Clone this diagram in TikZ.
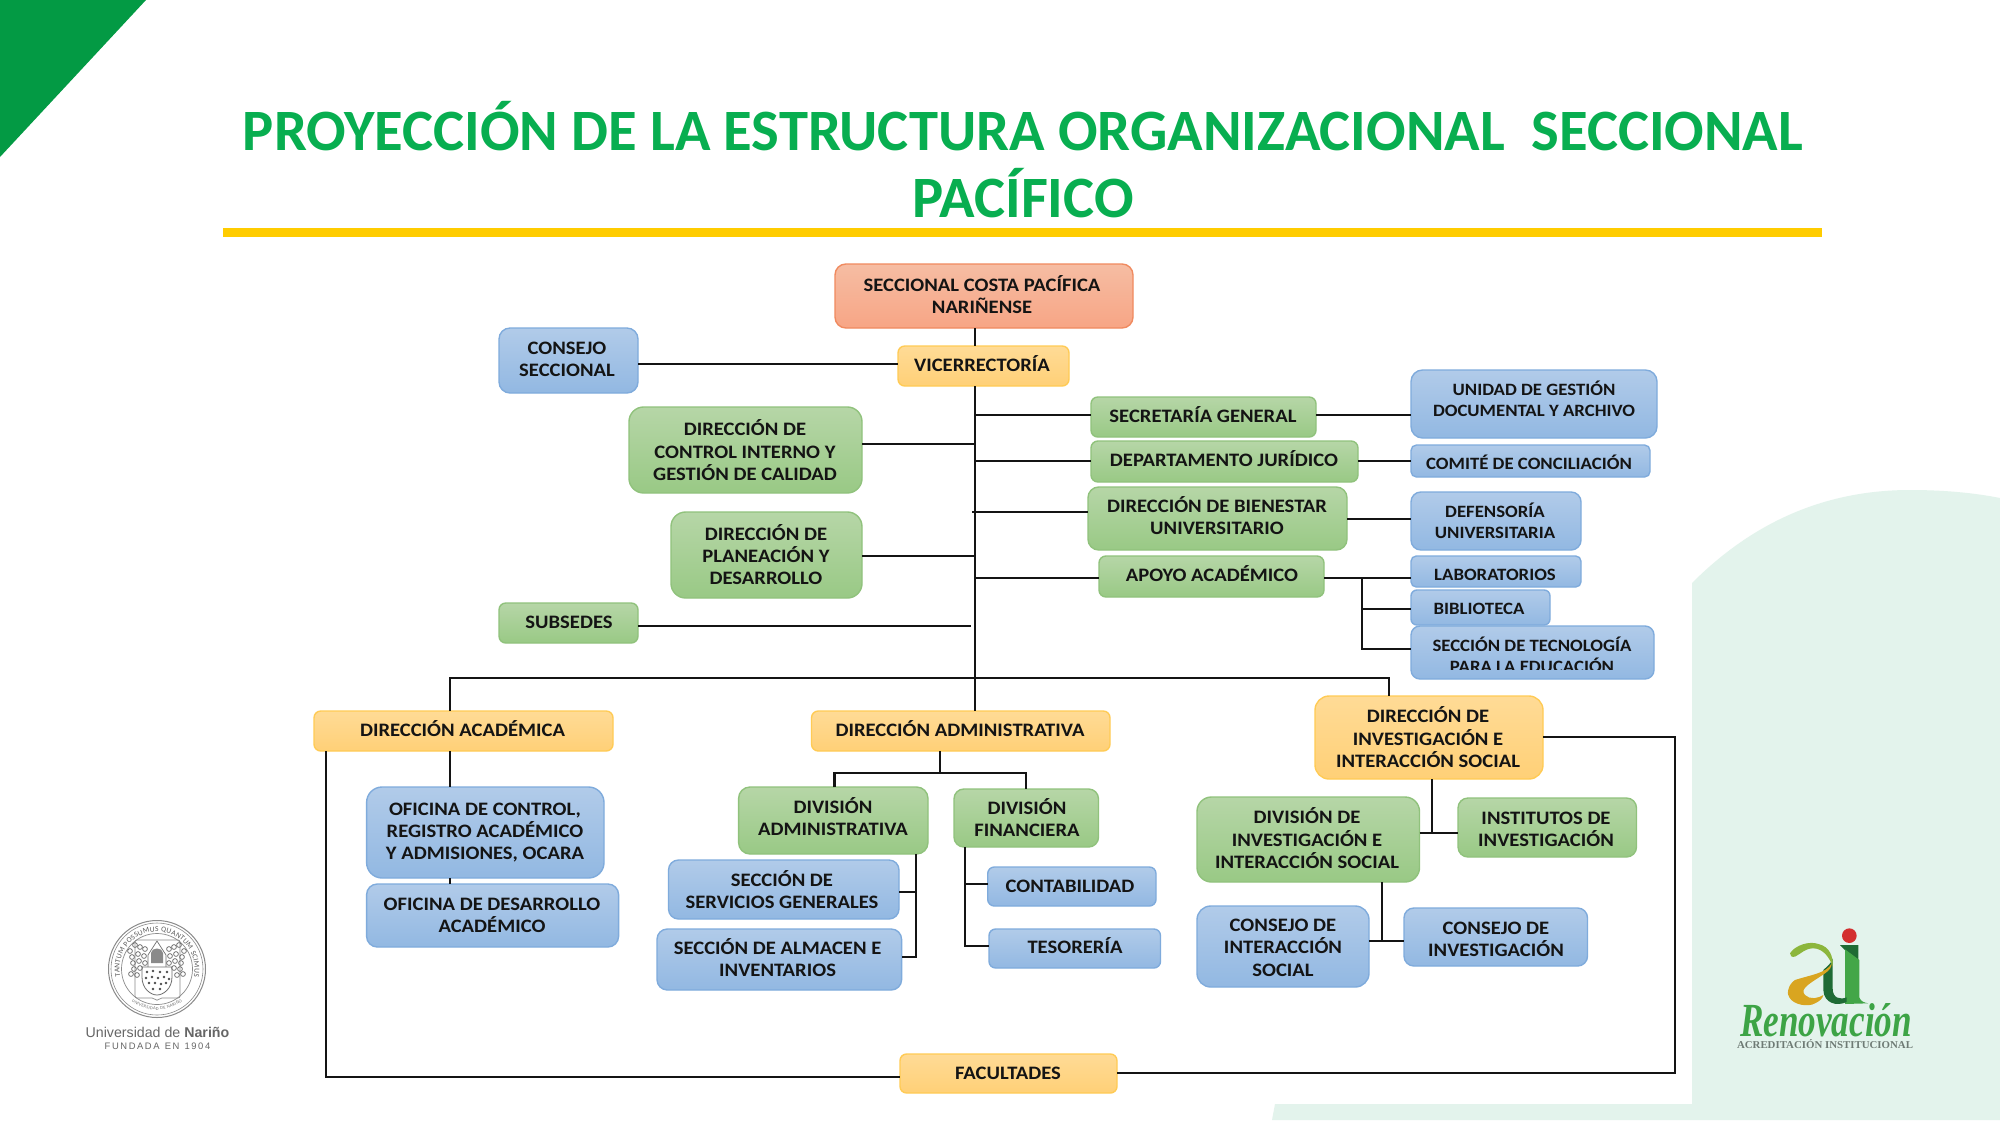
\documentclass[tikz,border=0pt]{standalone}
\usepackage{fontspec}
\usepackage{graphicx}
\setmainfont{Carlito}
\newfontfamily\boxfont[FakeStretch=1.085]{Carlito}
\newfontfamily\liberser{Liberation Serif}
\newfontfamily\libersans{Liberation Sans}
\usetikzlibrary{decorations.text}
\definecolor{titlegreen}{HTML}{08AE50}
\definecolor{trigreen}{HTML}{039A44}
\definecolor{rulegold}{HTML}{FFCC00}
\definecolor{palebg}{HTML}{E3F3EC}
\definecolor{inkc}{HTML}{141414}
\definecolor{logogray}{HTML}{6E7A74}
\definecolor{sealgray}{HTML}{8A8A8A}
\definecolor{logored}{HTML}{D32F2F}
\definecolor{logodark}{HTML}{1F6B35}
\definecolor{logomid}{HTML}{43A648}
\definecolor{logolight}{HTML}{8CB63C}
\definecolor{logogold}{HTML}{D9A520}
\definecolor{logotext}{HTML}{3DA446}
\newcommand{\tstrut}{\rule[-4.8pt]{0pt}{22pt}}
\tikzset{
  boxbase/.style={rectangle,inner sep=0pt,outer sep=0pt,line width=1.4pt},
  bluebox/.style={boxbase,draw=BBdraw,top color=BBtop,bottom color=BBbot},
  greenbox/.style={boxbase,draw=GBdraw,top color=GBtop,bottom color=GBbot},
  yellowbox/.style={boxbase,draw=YBdraw,top color=YBtop,bottom color=YBbot},
  orangebox/.style={boxbase,draw=OBdraw,top color=OBtop,bottom color=OBbot},
  lbl/.style={inner sep=0pt,outer sep=0pt,align=center,text=inkc,
    font=\boxfont\fontsize{19}{22.2}\selectfont\bfseries,
    execute at begin node=\tstrut,execute at end node=\tstrut},
  lblb/.style={lbl,font=\boxfont\fontsize{17.3}{21.2}\selectfont\bfseries},
  conn/.style={draw=inkc,line width=2.6pt,line join=miter,line cap=butt},
}
\definecolor{BBdraw}{HTML}{7FABDC}\definecolor{BBtop}{HTML}{B1CBE9}\definecolor{BBbot}{HTML}{92B8E2}
\definecolor{GBdraw}{HTML}{90C27C}\definecolor{GBtop}{HTML}{B6D6A7}\definecolor{GBbot}{HTML}{99C985}
\definecolor{YBdraw}{HTML}{FFCB55}\definecolor{YBtop}{HTML}{FFDB96}\definecolor{YBbot}{HTML}{FFD077}
\definecolor{OBdraw}{HTML}{F08A5F}\definecolor{OBtop}{HTML}{F6BDA3}\definecolor{OBbot}{HTML}{F7A585}
% name, style, x1,y1,x2,y2
\newcommand{\bx}[6]{%
  \pgfmathsetmacro{\bcx}{(#3+#5)/2}\pgfmathsetmacro{\bcy}{(#4+#6)/2}%
  \pgfmathsetmacro{\bw}{#5-#3}\pgfmathsetmacro{\bh}{#6-#4}%
  \pgfmathsetmacro{\brad}{0.17*\bh}%
  \node[#2,rounded corners=\brad pt,minimum width=\bw pt,minimum height=\bh pt] (#1) at (\bcx,\bcy) {};%
}
\newcommand{\hl}[3]{\draw[conn] (#1 |- 0,#3) -- (#2 |- 0,#3);}
\begin{document}
\begin{tikzpicture}[x=1pt,y=-1pt]
\useasboundingbox (0,0) rectangle (2000,1125);
\fill[white] (0,0) rectangle (2000,1125);
% background shapes
\fill[palebg] (1275,1104) -- (1692,1104) -- (1692,583) .. controls (1745,530) and (1815,490) .. (1910,490)
  .. controls (1945,490) and (1975,493) .. (2000,498) -- (2000,1120) -- (1272,1120) -- cycle;
\fill[trigreen] (0,0) -- (146,0) -- (0,157) -- cycle;
% title
\node[inner sep=0pt,align=center,text=titlegreen,font=\fontsize{58.6}{67}\selectfont\bfseries] (title) at (1023,167.3)
  {\rule[-15pt]{0pt}{50pt}PROYECCIÓN DE LA ESTRUCTURA ORGANIZACIONAL\ \ SECCIONAL\\PACÍFICO\rule[-15pt]{0pt}{50pt}};
\fill[rulegold] (223,228) rectangle (1822,237);
% boxes
\bx{secc}{orangebox}{835}{264}{1133}{328}
\node[lbl] (secc-t) at (982,296.8) {SECCIONAL COSTA PACÍFICA\\NARIÑENSE};
\bx{consejo}{bluebox}{499}{328}{638}{393}
\node[lbl] (consejo-t) at (567,361.5) {CONSEJO\\SECCIONAL};
\bx{vice}{yellowbox}{898}{346}{1069}{386}
\node[lbl] (vice-t) at (982,365) {VICERRECTORÍA};
\bx{control}{greenbox}{629}{407}{862}{493}
\node[lbl] (control-t) at (745,452.6) {DIRECCIÓN DE\\CONTROL INTERNO Y\\GESTIÓN DE CALIDAD};
\bx{plan}{greenbox}{671}{512}{862}{598}
\node[lbl] (plan-t) at (766,557) {DIRECCIÓN DE\\PLANEACIÓN Y\\DESARROLLO};
\bx{subs}{greenbox}{499}{603}{638}{643}
\node[lbl] (subs-t) at (569,622) {SUBSEDES};
\bx{sec}{greenbox}{1091}{397}{1316}{437}
\node[lbl] (sec-t) at (1203,416) {SECRETARÍA GENERAL};
\bx{depto}{greenbox}{1091}{441}{1358}{482}
\node[lbl] (depto-t) at (1224,460) {DEPARTAMENTO JURÍDICO};
\bx{bien}{greenbox}{1088}{487}{1347}{550}
\node[lbl] (bien-t) at (1217,517.6) {DIRECCIÓN DE BIENESTAR\\UNIVERSITARIO};
\bx{apoyo}{greenbox}{1099}{556}{1324}{597}
\node[lbl] (apoyo-t) at (1212,575) {APOYO ACADÉMICO};
\bx{unidad}{bluebox}{1411}{370}{1657}{438}
\node[lblb] (unidad-t) at (1534,400.8) {UNIDAD DE GESTIÓN\\DOCUMENTAL Y ARCHIVO};
\bx{comite}{bluebox}{1411}{445}{1650}{477}
\node[lblb] (comite-t) at (1529,463) {COMITÉ DE CONCILIACIÓN};
\bx{defens}{bluebox}{1411}{492}{1581}{550}
\node[lblb] (defens-t) at (1495,522.8) {DEFENSORÍA\\UNIVERSITARIA};
\bx{lab}{bluebox}{1411}{556}{1581}{587}
\node[lblb] (lab-t) at (1495,574.4) {LABORATORIOS};
\bx{biblio}{bluebox}{1411}{590}{1550}{625}
\node[lblb] (biblio-t) at (1479,608.4) {BIBLIOTECA};
\bx{tec}{bluebox}{1411}{626}{1654}{679}
\begin{scope}
\clip (1411,626) rectangle (1654,669.5);
\node[lblb] (tec-t) at (1532,657) {SECCIÓN DE TECNOLOGÍA\\PARA LA EDUCACIÓN};
\end{scope}
\bx{dirinv}{yellowbox}{1315}{696}{1543}{779}
\node[lbl] (dirinv-t) at (1428,739.5) {DIRECCIÓN DE\\INVESTIGACIÓN E\\INTERACCIÓN SOCIAL};
\bx{divinv}{greenbox}{1197}{797}{1419.5}{882}
\node[lbl] (divinv-t) at (1307,840.5) {DIVISIÓN DE\\INVESTIGACIÓN E\\INTERACCIÓN SOCIAL};
\bx{inst}{greenbox}{1458}{798}{1636.5}{857}
\node[lbl] (inst-t) at (1546,831.3) {INSTITUTOS DE\\INVESTIGACIÓN};
\bx{consint}{bluebox}{1197}{906}{1369}{987}
\node[lbl] (consint-t) at (1283,950) {CONSEJO DE\\INTERACCIÓN\\SOCIAL};
\bx{consinv}{bluebox}{1404}{908}{1587.5}{966}
\node[lbl] (consinv-t) at (1496,941.3) {CONSEJO DE\\INVESTIGACIÓN};
\bx{diracad}{yellowbox}{314}{711}{613}{751}
\node[lbl] (diracad-t) at (462.5,730) {DIRECCIÓN ACADÉMICA};
\bx{diradm}{yellowbox}{811.5}{711}{1110}{751}
\node[lbl] (diradm-t) at (960,730) {DIRECCIÓN ADMINISTRATIVA};
\bx{ofic}{bluebox}{366.6}{787}{604}{878}
\node[lbl] (ofic-t) at (485,833.4) {OFICINA DE CONTROL,\\REGISTRO ACADÉMICO\\Y ADMISIONES, OCARA};
\bx{ofid}{bluebox}{366.6}{884}{618.6}{947}
\node[lbl] (ofid-t) at (492,917.8) {OFICINA DE DESARROLLO\\ACADÉMICO};
\bx{divadm}{greenbox}{738.6}{787}{928}{854}
\node[lbl] (divadm-t) at (833,819) {DIVISIÓN\\ADMINISTRATIVA};
\bx{divfin}{greenbox}{954}{789}{1098.5}{847}
\node[lbl] (divfin-t) at (1027,820) {DIVISIÓN\\FINANCIERA};
\bx{serv}{bluebox}{668.5}{860}{899}{919}
\node[lbl] (serv-t) at (782,892) {SECCIÓN DE\\SERVICIOS GENERALES};
\bx{alm}{bluebox}{657}{929}{901.6}{990}
\node[lbl] (alm-t) at (777.6,960) {SECCIÓN DE ALMACEN E\\INVENTARIOS};
\bx{contab}{bluebox}{987.7}{867}{1156}{906}
\node[lbl] (contab-t) at (1070,886) {CONTABILIDAD};
\bx{teso}{bluebox}{989}{929}{1160.5}{968}
\node[lbl] (teso-t) at (1075,947) {TESORERÍA};
\bx{fac}{yellowbox}{900}{1054}{1117}{1093}
\node[lbl] (fac-t) at (1008,1073) {FACULTADES};
% connector anchors
\coordinate (trunk) at (975,0);
\coordinate (barL) at (450,678);
\coordinate (barR) at (1389,678);
\coordinate (subsend) at (970.6,626);
\coordinate (bienstart) at (972,512);
\coordinate (apbr) at (1362,0);
\coordinate (rightc) at (1675,0);
\coordinate (leftc) at (326,0);
\coordinate (admst) at (940,773);
\coordinate (admL) at (834.5,773);
\coordinate (admR) at (1026,773);
\coordinate (almb) at (916,0);
\coordinate (finb) at (965,0);
\coordinate (invs) at (1432,833);
\coordinate (consj) at (1382,941);
% connectors
\draw[conn] (secc.south -| trunk) -- (vice.north -| trunk);
\draw[conn] (vice.south -| trunk) -- (diradm.north -| trunk);
\hl{consejo.east}{vice.west}{364}
\hl{control.east}{trunk}{444}
\hl{plan.east}{trunk}{556}
\draw[conn] (subs.east |- subsend) -- (subsend);
\hl{trunk}{sec.west}{415}
\hl{sec.east}{unidad.west}{415}
\hl{trunk}{depto.west}{461}
\hl{depto.east}{comite.west}{461}
\draw[conn] (bienstart) -- (bienstart -| bien.west);
\hl{bien.east}{defens.west}{519}
\hl{trunk}{apoyo.west}{578}
\hl{apoyo.east}{lab.west}{578}
\draw[conn] (apbr |- 0,578) -- (apbr |- 0,649) -- (tec.west |- 0,649);
\hl{apbr}{biblio.west}{609}
\draw[conn] (diracad.north -| barL) -- (barL) -- (barR) -- (dirinv.north -| barR);
\draw[conn] (dirinv.east |- 0,737) -- (rightc |- 0,737) -- (rightc |- 0,1073) -- (fac.east |- 0,1073);
\draw[conn] (diracad.south -| leftc) -- (leftc |- 0,1077) -- (fac.west |- 0,1077);
\draw[conn] (diracad.south -| barL) -- (ofic.north -| barL);
\draw[conn] (ofic.south -| barL) -- (ofid.north -| barL);
\draw[conn] (diradm.south -| admst) -- (admst);
\draw[conn] (divadm.north -| admL) -- (admL) -- (admR) -- (divfin.north -| admR);
\draw[conn] (divadm.south -| almb) -- (almb |- 0,957) -- (alm.east |- 0,957);
\hl{serv.east}{almb}{892}
\draw[conn] (divfin.south -| finb) -- (finb |- 0,946) -- (teso.west |- 0,946);
\hl{finb}{contab.west}{884}
\draw[conn] (dirinv.south -| invs) -- (invs);
\draw[conn] (divinv.east |- invs) -- (inst.west |- invs);
\draw[conn] (divinv.south -| consj) -- (consj);
\draw[conn] (consint.east |- consj) -- (consinv.west |- consj);
% university seal
\begin{scope}[shift={(157,969)},x=1pt,y=1pt]
  \draw[sealgray,line width=1pt] (0,0) circle (48.5);
  \draw[sealgray,line width=0.6pt] (0,0) circle (46);
  \draw[sealgray,line width=0.7pt] (0,0) circle (35.5);
  \path[decorate,decoration={text along path,text align=fit to path,
     text={|\fontsize{7.5}{8}\selectfont\color{black!65}|TANTUM POSSUMUS QUANTUM SCIMUS}}]
     (192:37.5) arc[start angle=192,end angle=-12,radius=37.5];
  \path[decorate,decoration={text along path,text align=fit to path,
     text={|\fontsize{4.5}{5}\selectfont\color{black!55}|UNIVERSIDAD DE NARIÑO}}]
     (232:41) arc[start angle=232,end angle=308,radius=41];
  \begin{scope}[yscale=-1]
    % frame and shield
    \draw[sealgray,line width=0.7pt,rounded corners=2pt] (-22,29) -- (-22,-29) -- (23,-29) -- (23,29) -- (3,29) -- (0,32) -- (-3,29) -- cycle;
    \fill[white] (-9,-14) -- (0,-28) -- (9,-14) -- (9,-4) -- (-9,-4) -- cycle;
    \draw[sealgray!80!black,line width=0.7pt] (-9,-14) -- (0,-28) -- (9,-14) -- (9,0) -- (-9,0) -- cycle;
    \fill[sealgray] (-6,-16) .. controls (-6,-22) and (6,-22) .. (6,-16) -- (6,-6) -- (-6,-6) -- cycle;
    \fill[white] (-15,-2) rectangle (15,8);
    \draw[sealgray!80!black,line width=0.8pt] (-15,-2) -- (-15,8) .. controls (-15,20) and (-6,26) .. (0,26) .. controls (6,26) and (15,20) .. (15,8) -- (15,-2) -- cycle;
    \foreach \pa/\pb in {-10/3,-4/2,3/3,10/3,-11/9,-5/8,1/9,7/8,12/10,-8/14,-2/14,4/15,9/14,-4/20,3/20}
      \fill[black!70] (\pa,\pb) circle (1.3);
    % foliage
    \foreach \pa/\pb in {-27/-18,-22/-24,-17/-22,-12/-20,-25/-12,-19/-15,-13/-13,-24/-6,-18/-8,-12/-6,-23/0,-17/-1,-26/5,-20/6,
                         27/-18,22/-24,17/-22,12/-20,25/-12,19/-15,13/-13,24/-6,18/-8,12/-6,23/0,17/-1,26/5,20/6}
      \draw[sealgray!75!black,line width=0.7pt] (\pa,\pb) circle (2.4);
  \end{scope}
\end{scope}
\node[inner sep=0pt,anchor=base,text=black!60,font=\libersans\fontsize{14.2}{16}\selectfont] (univ) at (157.5,1037)
  {Universidad de \textbf{Nariño}};
\node[inner sep=0pt,anchor=base,text=black!60,font=\libersans\fontsize{9.4}{10}\selectfont] (fund) at (157.5,1049)
  {F\,U\,N\,D\,A\,D\,A\ \ E\,N\ \ 1\,9\,0\,4};
% Renovacion logo
\begin{scope}[shift={(1730,920)},x=0.3333pt,y=-0.3333pt]
  \fill[logored] (358,47) circle (22);
  \fill[logodark] (330,75) -- (385,75) -- (385,120) -- (345,90) -- cycle;
  \fill[logomid] (345,88) -- (388,120) -- (388,232) .. controls (392,244) and (402,248) .. (415,250) -- (345,252) -- cycle;
  \fill[logodark] (308,115) -- (308,205) .. controls (308,235) and (330,240) .. (350,232) -- (350,246) .. controls (320,260) and (282,250) .. (280,210) -- (280,150) .. controls (290,140) and (305,130) .. (308,115) -- cycle;
  \fill[logogold] (305,130) .. controls (290,160) and (240,165) .. (195,180) .. controls (172,195) and (170,225) .. (178,232) .. controls (190,255) and (235,262) .. (255,250) .. controls (270,243) and (278,235) .. (280,225) .. controls (265,235) and (240,240) .. (225,225) .. controls (205,205) and (250,185) .. (285,160) .. controls (300,150) and (305,140) .. (305,130) -- cycle;
  \fill[logolight] (180,100) .. controls (195,75) and (240,62) .. (265,72) .. controls (300,80) and (310,110) .. (308,140) .. controls (300,115) and (280,85) .. (250,85) .. controls (225,85) and (215,100) .. (195,110) .. controls (185,112) and (180,108) .. (180,100) -- cycle;
\end{scope}
\node[inner sep=0pt,text=logotext] (renov) at (1826,1020)
  {\resizebox{172pt}{33pt}{\liberser\bfseries\itshape\fontsize{38}{40}\selectfont Renovación}};
\node[inner sep=0pt,text=logogray] (acred) at (1825,1044)
  {\resizebox{176pt}{9pt}{\liberser\bfseries\fontsize{11}{12}\selectfont ACREDITACIÓN INSTITUCIONAL}};
\end{tikzpicture}
\end{document}
